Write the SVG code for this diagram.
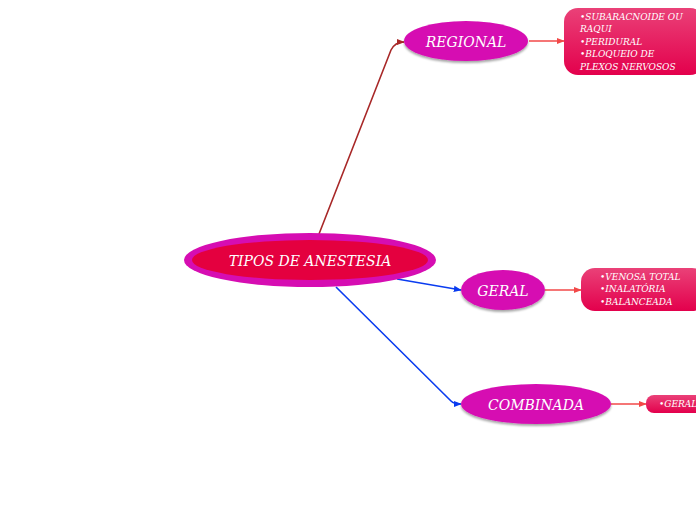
<svg xmlns="http://www.w3.org/2000/svg" width="696" height="520" viewBox="0 0 696 520">
<style>
.t{font-family:"DejaVu Serif","Liberation Serif",serif;font-style:italic;fill:#fff}
.main{font-size:14px}
.sec{font-size:14px}
.sub{font-size:9px}
.sn{fill:#d60db2;filter:url(#sh)}
.bx{fill:url(#g)}
.cb{fill:none;stroke:#0a3cf0;stroke-width:1.6}
.cr{fill:none;stroke:#a82828;stroke-width:1.6}
.cs{fill:none;stroke:#f24848;stroke-width:1.6}
</style>
<defs>
<linearGradient id="g" x1="0" y1="0" x2="0" y2="1"><stop offset="0" stop-color="#ea4178"/><stop offset="1" stop-color="#e3004c"/></linearGradient>
<filter id="sh" x="-10%" y="-20%" width="120%" height="150%"><feGaussianBlur in="SourceAlpha" stdDeviation="1.2"/><feOffset dy="2" result="b"/><feFlood flood-color="#000" flood-opacity="0.35"/><feComposite in2="b" operator="in"/><feMerge><feMergeNode/><feMergeNode in="SourceGraphic"/></feMerge></filter>
<marker id="ab" viewBox="0 0 10 10" refX="9" refY="5" markerWidth="5" markerHeight="5" orient="auto"><path d="M0,1 L10,5 L0,9 z" fill="#0a3cf0"/></marker>
<marker id="ar" viewBox="0 0 10 10" refX="9" refY="5" markerWidth="5" markerHeight="5" orient="auto"><path d="M0,1 L10,5 L0,9 z" fill="#a82828"/></marker>
<marker id="as" viewBox="0 0 10 10" refX="9" refY="5" markerWidth="5" markerHeight="5" orient="auto"><path d="M0,1 L10,5 L0,9 z" fill="#f24848"/></marker>
</defs>
<g id="connectors">
<path class="cr" d="M319,234 L391,50 Q395,42 404,42" marker-end="url(#ar)"/>
<path class="cb" d="M397,279 L461,290" marker-end="url(#ab)"/>
<path class="cb" d="M336,287 L451,401 Q454,404 461,404" marker-end="url(#ab)"/>
<path class="cs" d="M529,41 L564,41" marker-end="url(#as)"/>
<path class="cs" d="M545,290 L581,290" marker-end="url(#as)"/>
<path class="cs" d="M611,404 L646,404" marker-end="url(#as)"/>
</g>
<g id="n-main">
<ellipse cx="310" cy="260" rx="126" ry="27" fill="#d60db2"/>
<ellipse cx="310" cy="260" rx="118" ry="20" fill="#e4003f"/>
<text class="t main" x="310" y="265.5" text-anchor="middle">TIPOS DE ANESTESIA</text>
</g>
<g id="n-regional">
<ellipse class="sn" cx="466" cy="41" rx="62" ry="20"/>
<text class="t sec" x="466" y="46.5" text-anchor="middle">REGIONAL</text>
</g>
<g id="n-geral">
<ellipse class="sn" cx="503" cy="290" rx="42" ry="20"/>
<text class="t sec" x="503" y="295.5" text-anchor="middle">GERAL</text>
</g>
<g id="n-combinada">
<ellipse class="sn" cx="536" cy="404" rx="75" ry="20"/>
<text class="t sec" x="536" y="409.5" text-anchor="middle">COMBINADA</text>
</g>
<g id="s-regional">
<rect class="bx" x="564" y="8" width="140" height="67" rx="14"/>
<text class="t sub" x="580" y="20">•SUBARACNOIDE OU</text>
<text class="t sub" x="580" y="32">RAQUI</text>
<text class="t sub" x="580" y="45">•PERIDURAL</text>
<text class="t sub" x="580" y="57">•BLOQUEIO DE</text>
<text class="t sub" x="580" y="70">PLEXOS NERVOSOS</text>
</g>
<g id="s-geral">
<rect class="bx" x="581" y="268" width="125" height="43" rx="14"/>
<text class="t sub" x="600" y="280">•VENOSA TOTAL</text>
<text class="t sub" x="600" y="292">•INALATÓRIA</text>
<text class="t sub" x="600" y="305">•BALANCEADA</text>
</g>
<g id="s-combinada">
<rect class="bx" x="646" y="395" width="60" height="18" rx="8"/>
<text class="t sub" x="659" y="407">•GERAL</text>
</g>
</svg>
